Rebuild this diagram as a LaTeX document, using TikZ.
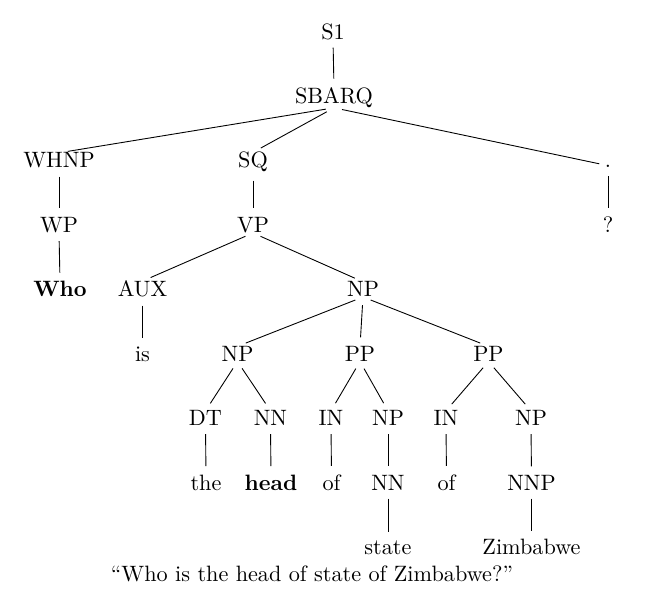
\documentclass[tikz,border=0pt]{standalone}
\begin{document}
\begin{tikzpicture}[x=0.45pt,y=-0.45pt,
  tn/.style={anchor=base,inner sep=0pt,outer sep=0pt},
  br/.style={line width=0.4pt,shorten <=3.7pt,shorten >=4pt}]
\useasboundingbox (0,0) rectangle (656,594);
% row 0
\node[tn] (s1) at (333,39) {S1};
% row 1
\node[tn] (sbarq) at (334,103.5) {SBARQ};
% row 2
\node[tn] (whnp) at (59,168) {WHNP};
\node[tn] (sq) at (253,168) {SQ};
\node[tn] (dot) at (608,168) {.};
% row 3
\node[tn] (wp) at (59,232.5) {WP};
\node[tn] (vp) at (253,232.5) {VP};
\node[tn] (qm) at (608,232.5) {?};
% row 4
\node[tn] (who) at (60,297) {\textbf{Who}};
\node[tn] (aux) at (142.5,297) {AUX};
\node[tn] (np1) at (363,297) {NP};
% row 5
\node[tn] (is) at (142.5,361.5) {is};
\node[tn] (np2) at (237.5,361.5) {NP};
\node[tn] (pp1) at (360,361.5) {PP};
\node[tn] (pp2) at (488.5,361.5) {PP};
% row 6
\node[tn] (dt) at (205.5,426) {DT};
\node[tn] (nn1) at (270.5,426) {NN};
\node[tn] (in1) at (331,426) {IN};
\node[tn] (np3) at (388,426) {NP};
\node[tn] (in2) at (446,426) {IN};
\node[tn] (np4) at (531,426) {NP};
% row 7
\node[tn] (the) at (206,490.5) {the};
\node[tn] (head) at (271,490.5) {\textbf{head}};
\node[tn] (of1) at (331.5,490.5) {of};
\node[tn] (nn2) at (388,490.5) {NN};
\node[tn] (of2) at (446.5,490.5) {of};
\node[tn] (nnp) at (531.5,490.5) {NNP};
% row 8
\node[tn] (state) at (388,555) {state};
\node[tn] (zim) at (531.5,555) {Zimbabwe};
% caption
\node[tn] (cap) at (312,582) {``Who is the head of state of Zimbabwe?''};
% branches
\draw[br] (s1.south) -- (sbarq.north);
\draw[br] (sbarq.south) -- (whnp.north);
\draw[br] (sbarq.south) -- (sq.north);
\draw[br] (sbarq.south) -- (dot.north);
\draw[br] (whnp.south) -- (wp.north);
\draw[br] (wp.south) -- (who.north);
\draw[br] (sq.south) -- (vp.north);
\draw[br] (dot.south) -- (qm.north);
\draw[br] (vp.south) -- (aux.north);
\draw[br] (vp.south) -- (np1.north);
\draw[br] (aux.south) -- (is.north);
\draw[br] (np1.south) -- (np2.north);
\draw[br] (np1.south) -- (pp1.north);
\draw[br] (np1.south) -- (pp2.north);
\draw[br] (np2.south) -- (dt.north);
\draw[br] (np2.south) -- (nn1.north);
\draw[br] (pp1.south) -- (in1.north);
\draw[br] (pp1.south) -- (np3.north);
\draw[br] (pp2.south) -- (in2.north);
\draw[br] (pp2.south) -- (np4.north);
\draw[br] (dt.south) -- (the.north);
\draw[br] (nn1.south) -- (head.north);
\draw[br] (in1.south) -- (of1.north);
\draw[br] (np3.south) -- (nn2.north);
\draw[br] (in2.south) -- (of2.north);
\draw[br] (np4.south) -- (nnp.north);
\draw[br] (nn2.south) -- (state.north);
\draw[br] (nnp.south) -- (zim.north);
\end{tikzpicture}
\end{document}
